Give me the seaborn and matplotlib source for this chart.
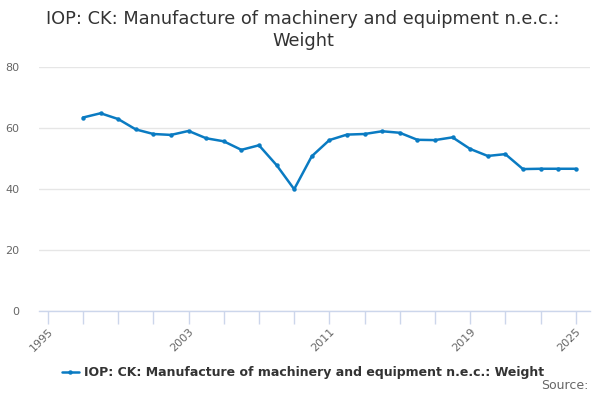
import numpy as np
import pandas as pd
import matplotlib
matplotlib.use('Agg')
import matplotlib.pyplot as plt
import seaborn as sns

years = list(range(1997, 2026))
weight = [63.5, 64.9, 63.0, 59.6, 58.1, 57.8, 59.1, 56.7, 55.7, 52.9,
          54.4, 47.9, 40.0, 50.8, 56.1, 57.9, 58.1, 59.0, 58.5, 56.2,
          56.1, 57.0, 53.2, 50.9, 51.5, 46.6, 46.7, 46.7, 46.7]
series_name = 'IOP: CK: Manufacture of machinery and equipment n.e.c.: Weight'
title = 'IOP: CK: Manufacture of machinery and equipment n.e.c.:\nWeight'
tick_years = list(range(1995, 2026, 2))
label_years = [1995, 2003, 2011, 2019, 2025]
y_ticks = [0, 20, 40, 60, 80]

df = pd.DataFrame({'year': years, 'value': weight})

sns.set_theme(style='white')
plt.rcParams['font.family'] = ['DejaVu Sans']

line_col = '#0a7bc2'
grid_col = '#e6e6e6'
axis_col = '#ccd6eb'
text_col = '#666666'

fig = plt.figure(figsize=(6, 4), dpi=100)
ax = fig.add_axes([0.065, 0.222, 0.918, 0.61])

sns.lineplot(data=df, x='year', y='value', ax=ax, color=line_col,
             linewidth=1.8, marker='o', markersize=3.2, markeredgewidth=0,
             label=series_name, legend=False)

ax.set_xlim(1994.5, 2025.8)
ax.set_ylim(0, 80)
ax.set_yticks(y_ticks)
ax.set_yticklabels([str(v) for v in y_ticks], color=text_col, fontsize=8)
ax.yaxis.grid(True, color=grid_col, linewidth=1)
ax.tick_params(axis='y', length=0, pad=14)

ax.set_xticks(tick_years)
ax.set_xticklabels([str(y) if y in label_years else '' for y in tick_years],
                   rotation=45, ha='right', rotation_mode='anchor',
                   color=text_col, fontsize=8)
ax.tick_params(axis='x', length=9, width=1, color=axis_col, direction='out',
               bottom=True, pad=2)

for s in ['top', 'right', 'left']:
    ax.spines[s].set_visible(False)
ax.spines['bottom'].set_color(axis_col)
ax.spines['bottom'].set_linewidth(1)
ax.set_xlabel('')
ax.set_ylabel('')

fig.suptitle(title, x=0.505, y=0.975, fontsize=12.8, color='#333333',
             linespacing=1.25)

handles, labels = ax.get_legend_handles_labels()
fig.legend(handles, labels, loc='center', bbox_to_anchor=(0.505, 0.068),
           frameon=False, prop={'weight': 'bold', 'size': 9},
           handlelength=1.4, handletextpad=0.4, labelcolor='#333333')

fig.text(0.98, 0.02, 'Source:', ha='right', va='bottom', fontsize=9,
         color=text_col)

fig.savefig('out.png', dpi=100)
